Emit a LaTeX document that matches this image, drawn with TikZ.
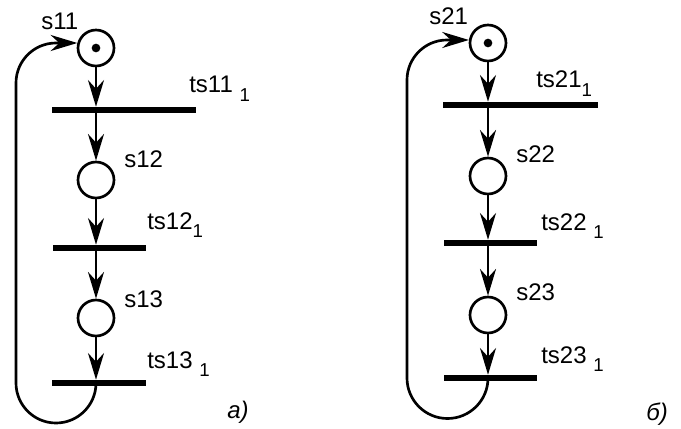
\documentclass[tikz,border=0pt]{standalone}
\usepackage{fontspec}
\setmainfont{Liberation Sans}
\usetikzlibrary{arrows.meta}
\newcommand{\tsub}[1]{\raisebox{-6pt}{\fontsize{14}{16}\selectfont #1}}
\tikzset{
  place/.style={circle, draw, line width=2pt, minimum size=27pt, inner sep=0pt},
  trans/.style={rectangle, fill=black, inner sep=0pt, minimum height=4.5pt},
  token/.style={circle, fill=black, inner sep=0pt, minimum size=6.5pt},
  flow/.style={-{Stealth[length=20pt, width=12pt, inset=6.5pt]}, line width=2pt},
  lbl/.style={anchor=base west, font=\fontsize{18}{21}\selectfont, inner sep=0pt}
}

\begin{document}
\begin{tikzpicture}[x=0.75pt, y=-0.75pt]
  \useasboundingbox (0,0) rectangle (681,428);
  % net a)
  \node[place] (s11) at (96,48) {};
  \node[token] (k11) at (s11) {};
  \node[trans, minimum width=108pt] (t11) at (124,110) {};
  \node[place] (s12) at (96,180) {};
  \node[trans, minimum width=70pt] (t12) at (99.5,248) {};
  \node[place] (s13) at (96,318) {};
  \node[trans, minimum width=70pt] (t13) at (99,383) {};
  \draw[flow] (s11.south) -- (s11.south |- t11.north);
  \draw[flow] (s11.south |- t11.south) -- (s12.north);
  \draw[flow] (s12.south) -- (s12.south |- t12.north);
  \draw[flow] (s12.south |- t12.south) -- (s13.north);
  \draw[flow] (s13.south) -- (s13.south |- t13.north);
  \draw[flow] (s13 |- t13.center) arc[start angle=0, end angle=180, radius=40]
    -- (16,83) arc[start angle=180, end angle=270, radius=40] -- (s11.165);
  \node[lbl] (l11) at (41,30) {s11};
  \node[lbl] (lt11) at (189,93) {ts11\ \tsub{1}};
  \node[lbl] (l12) at (124,167) {s12};
  \node[lbl] (lt12) at (147,229) {ts12\tsub{1}};
  \node[lbl] (l13) at (124,307) {s13};
  \node[lbl] (lt13) at (147,368) {ts13\ \tsub{1}};
  \node[lbl] (ca) at (227,418) {\textit{a)}};
  % net b)
  \node[place] (s21) at (488,43) {};
  \node[token] (k21) at (s21) {};
  \node[trans, minimum width=116pt] (t21) at (520.5,105) {};
  \node[place] (s22) at (488,176) {};
  \node[trans, minimum width=70pt] (t22) at (490.5,243) {};
  \node[place] (s23) at (488,315) {};
  \node[trans, minimum width=70pt] (t23) at (490.5,378) {};
  \draw[flow] (s21.south) -- (s21.south |- t21.north);
  \draw[flow] (s21.south |- t21.south) -- (s22.north);
  \draw[flow] (s22.south) -- (s22.south |- t22.north);
  \draw[flow] (s22.south |- t22.south) -- (s23.north);
  \draw[flow] (s23.south) -- (s23.south |- t23.north);
  \draw[flow] (s23 |- t23.center) arc[start angle=0, end angle=180, radius=40.5]
    -- (407,80) arc[start angle=180, end angle=270, radius=40] -- (s21.171);
  \node[lbl] (l21) at (429,25) {s21};
  \node[lbl] (lt21) at (536,88) {ts21\tsub{1}};
  \node[lbl] (l22) at (516,162) {s22};
  \node[lbl] (lt22) at (541,230) {ts22\ \tsub{1}};
  \node[lbl] (l23) at (516,300) {s23};
  \node[lbl] (lt23) at (541,363) {ts23\ \tsub{1}};
  \node[lbl] (cb) at (646,420) {\textit{б)}};
\end{tikzpicture}
\end{document}
